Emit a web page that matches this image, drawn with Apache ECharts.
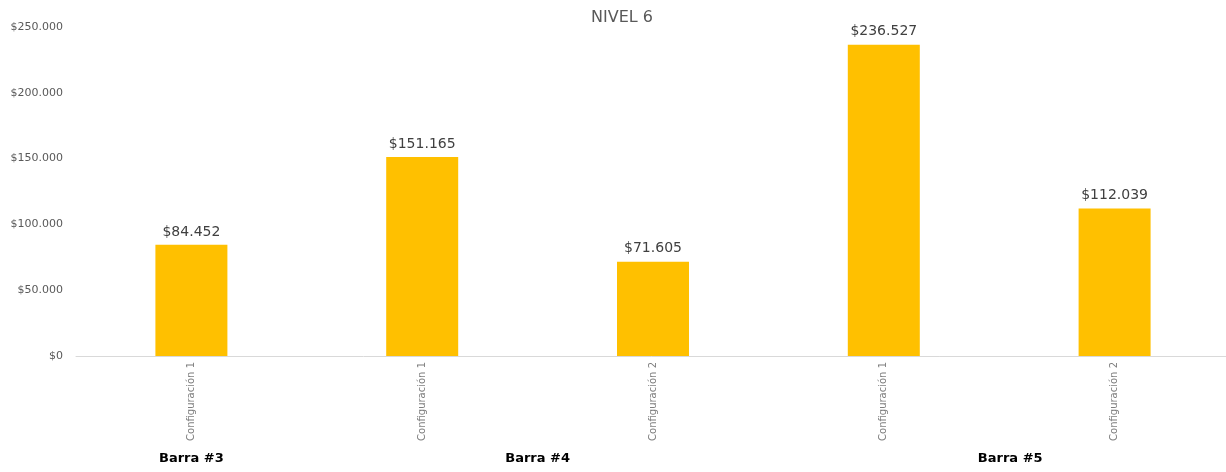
<!DOCTYPE html>
<html>
<head>
<meta charset="utf-8">
<script src="https://cdn.jsdelivr.net/npm/echarts@6/dist/echarts.min.js"></script>
<style>html,body{margin:0;padding:0;background:#fff}#c{width:1226px;height:472px}</style>
</head>
<body>
<div id="c"></div>
<script>
const categories = ["Configuración 1", "Configuración 1", "Configuración 2", "Configuración 1", "Configuración 2"];
const values = [84452, 151165, 71605, 236527, 112039];
const groupSlots = ["", "Barra #3", "", "", "Barra #4", "", "", "", "Barra #5", "", ""];
const yTicks = [0, 50000, 100000, 150000, 200000, 250000];

function money(v) {
  return '$' + String(Math.round(v)).replace(/\B(?=(\d{3})+(?!\d))/g, '.');
}

const font = "'DejaVu Sans', sans-serif";
const chart = echarts.init(document.getElementById('c'));
chart.setOption({
  animation: false,
  textStyle: { fontFamily: font },
  title: {
    text: 'NIVEL 6', left: 617, textAlign: 'center', top: 5,
    textStyle: { fontFamily: font, fontSize: 16, fontWeight: 'normal', color: '#595959' }
  },
  grid: { left: 76, top: 27, bottom: 116, width: 1154, outerBoundsMode: 'none', containLabel: false },
  xAxis: [{
    type: 'category', data: categories,
    axisLine: { lineStyle: { color: '#d9d9d9', width: 1 } },
    axisTick: { show: false },
    axisLabel: { rotate: 90, margin: 6, fontSize: 10, color: '#7f7f7f', fontFamily: font, interval: 0 }
  }, {
    type: 'category', data: groupSlots.map(s => s === 'Barra #5' ? { value: s, textStyle: { padding: [0, 0, 0, 22] } } : s),
    boundaryGap: false, position: 'bottom', offset: 96,
    axisLine: { show: false }, axisTick: { show: false }, splitLine: { show: false },
    axisLabel: { interval: 0, margin: 0, fontSize: 13, fontWeight: 'bold', color: '#000', fontFamily: font }
  }],
  yAxis: {
    type: 'value', min: 0, max: yTicks[yTicks.length - 1], interval: yTicks[1] - yTicks[0],
    axisLine: { show: false }, axisTick: { show: false }, splitLine: { show: false },
    axisLabel: { formatter: money, fontSize: 11, color: '#595959', margin: 13, fontFamily: font }
  },
  series: [{
    type: 'bar', data: values, barWidth: 72, xAxisIndex: 0,
    itemStyle: { color: '#FFC000' },
    label: { show: true, position: 'top', distance: 6, formatter: p => money(p.value), fontSize: 14, color: '#404040', fontFamily: font }
  }]
});
</script>
</body>
</html>
